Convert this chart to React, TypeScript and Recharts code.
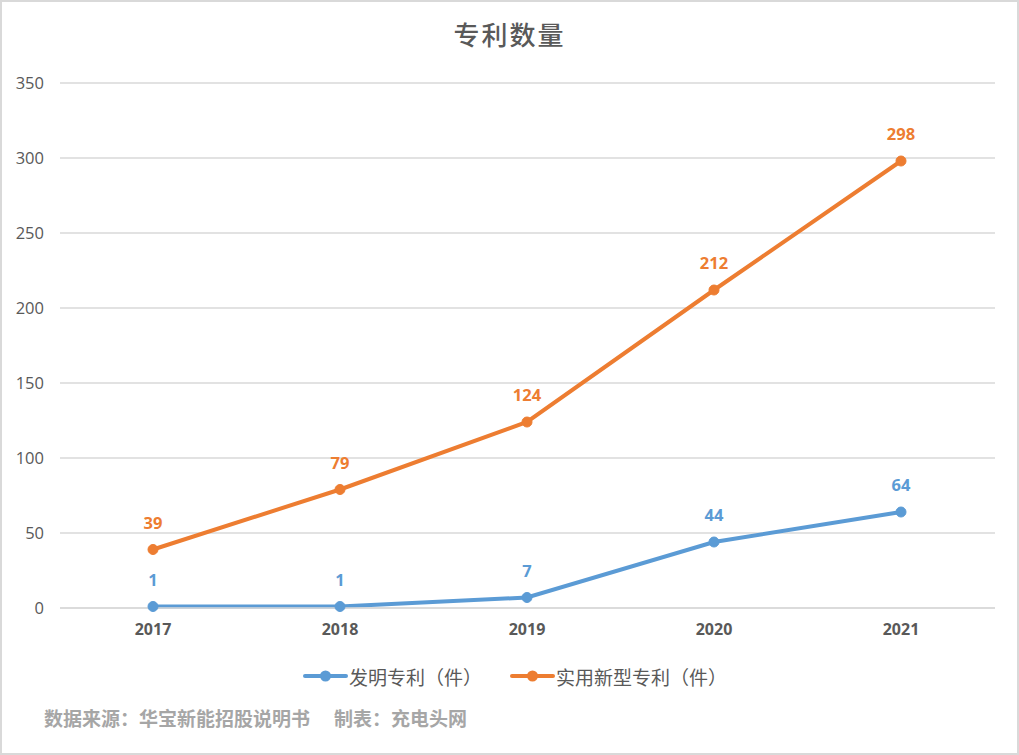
import React from "react";
import { LineChart, Line, XAxis, YAxis, CartesianGrid, LabelList } from "recharts";

const years = ["2017", "2018", "2019", "2020", "2021"];
const inventionPatents = [1, 1, 7, 44, 64];
const utilityPatents = [39, 79, 124, 212, 298];
const yTicks = [0, 50, 100, 150, 200, 250, 300, 350];

const seriesNames = ["发明专利（件）", "实用新型专利（件）"];
const colors = ["#5b9bd5", "#ed7d31"];

const rows = years.map((y, i) => ({
  year: y,
  invention: inventionPatents[i],
  utility: utilityPatents[i],
}));

const FONT = "'Open Sans', 'Noto Sans CJK SC', sans-serif";
const CJK = "'Noto Sans CJK SC', sans-serif";

const LegendItem = ({ color, name, left }: { color: string; name: string; left: number }) => (
  <div style={{ position: "absolute", left, top: 0, display: "flex", alignItems: "center", height: 26 }}>
    <svg width={45} height={12} style={{ marginRight: 1 }}>
      <line x1={2} y1={6} x2={43} y2={6} stroke={color} strokeWidth={4} strokeLinecap="round" />
      <circle cx={22.5} cy={6} r={5.5} fill={color} />
    </svg>
    <span style={{ fontSize: 19, color: "#595959", fontFamily: CJK, whiteSpace: "pre" }}>{name}</span>
  </div>
);

export default function App() {
  return (
    <div
      style={{
        position: "absolute",
        left: 0,
        top: 0,
        width: 1019,
        height: 755,
        boxSizing: "border-box",
        border: "2px solid #d9d9d9",
        background: "#fff",
        overflow: "hidden",
      }}
    >
      <div
        style={{
          position: "absolute",
          left: 0,
          top: 13,
          width: 1015,
          textAlign: "center",
          fontFamily: CJK,
          fontSize: 26,
          fontWeight: 500,
          letterSpacing: 2,
          color: "#595959",
        }}
      >
        专利数量
      </div>
      <div style={{ position: "absolute", left: -2, top: -1 }}>
        <LineChart
          width={1019}
          height={755}
          data={rows}
          margin={{ top: 82, right: 24, left: 0, bottom: 118 }}
        >
          <CartesianGrid vertical={false} stroke="#d9d9d9" strokeWidth={1.5} />
          <XAxis
            dataKey="year"
            padding={{ left: 93, right: 94 }}
            axisLine={{ stroke: "#d9d9d9", strokeWidth: 1.5 }}
            tickLine={false}
            tickMargin={10}
            tick={{ fontSize: 16, fontWeight: 700, fill: "#595959", fontFamily: FONT }}
          />
          <YAxis
            width={60}
            domain={[0, 350]}
            ticks={yTicks}
            axisLine={false}
            tickLine={false}
            tickMargin={10}
            tick={{ fontSize: 16.5, fill: "#595959", fontFamily: FONT }}
          />
          <Line
            type="linear"
            dataKey="invention"
            name={seriesNames[0]}
            stroke={colors[0]}
            strokeWidth={4}
            dot={{ r: 5, fill: colors[0], stroke: colors[0], strokeWidth: 1 }}
            isAnimationActive={false}
          >
            <LabelList
              dataKey="invention"
              position="top"
              offset={21}
              style={{ fontSize: 16.5, fontWeight: 700, fill: colors[0], fontFamily: FONT }}
            />
          </Line>
          <Line
            type="linear"
            dataKey="utility"
            name={seriesNames[1]}
            stroke={colors[1]}
            strokeWidth={4}
            dot={{ r: 5, fill: colors[1], stroke: colors[1], strokeWidth: 1 }}
            isAnimationActive={false}
          >
            <LabelList
              dataKey="utility"
              position="top"
              offset={21}
              style={{ fontSize: 16.5, fontWeight: 700, fill: colors[1], fontFamily: FONT }}
            />
          </Line>
        </LineChart>
      </div>
      <div style={{ position: "absolute", left: 0, top: 661, width: 1015, height: 30 }}>
        <LegendItem color={colors[0]} name={seriesNames[0]} left={301} />
        <LegendItem color={colors[1]} name={seriesNames[1]} left={508} />
      </div>
      <div
        style={{
          position: "absolute",
          left: 42,
          top: 702,
          fontFamily: CJK,
          fontSize: 19,
          fontWeight: 700,
          color: "#a6a6a6",
          whiteSpace: "pre",
        }}
      >
        数据来源：华宝新能招股说明书
      </div>
      <div
        style={{
          position: "absolute",
          left: 332,
          top: 702,
          fontFamily: CJK,
          fontSize: 19,
          fontWeight: 700,
          color: "#a6a6a6",
          whiteSpace: "pre",
        }}
      >
        制表：充电头网
      </div>
    </div>
  );
}
